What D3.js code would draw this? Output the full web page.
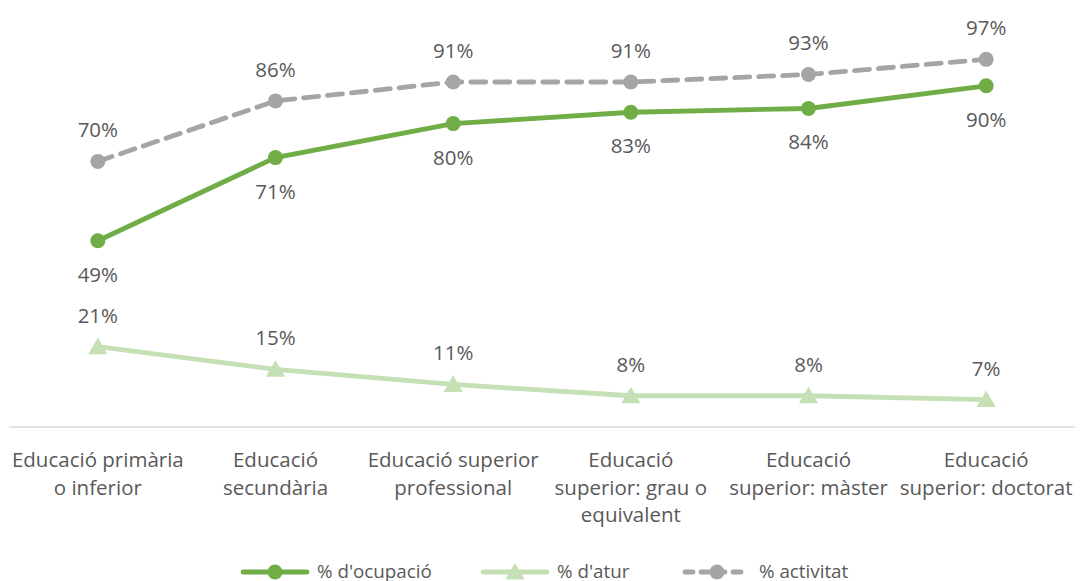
<!DOCTYPE html>
<html>
<meta charset="utf-8">
<head>
  <script src="https://d3js.org/d3.v7.min.js"></script>
</head>
<style>
  body { margin: 0; background: #fff; }
  text { font-family: 'Open Sans', sans-serif; fill: #595959; font-size: 20.5px; }
  text.leg { font-size: 18.8px; }
</style>
<body>
<script>
  // data
  var categories = [
    ["Educació primària", "o inferior"],
    ["Educació", "secundària"],
    ["Educació superior", "professional"],
    ["Educació", "superior: grau o", "equivalent"],
    ["Educació", "superior: màster"],
    ["Educació", "superior: doctorat"]
  ];
  var ocupacio = [49, 71, 80, 83, 84, 90];
  var atur = [21, 15, 11, 8, 8, 7];
  var activitat = [70, 86, 91, 91, 93, 97];

  var w = 1080, h = 581;
  var svg = d3.select("body").append("svg").attr("width", w).attr("height", h);

  var x = d3.scaleBand().domain(d3.range(categories.length)).range([9, 1075]);
  var y = d3.scaleLinear().domain([0, 100]).range([426, 48]);
  var cx = function(i) { return x(i) + x.bandwidth() / 2; };

  // baseline
  svg.append("line")
    .attr("x1", 9).attr("x2", 1075).attr("y1", 427).attr("y2", 427)
    .attr("stroke", "#d9d9d9").attr("stroke-width", 1.5);

  // category labels
  categories.forEach(function(lines, i) {
    var t = svg.append("text").attr("text-anchor", "middle");
    lines.forEach(function(l, k) {
      t.append("tspan").attr("x", cx(i)).attr("y", 467 + k * 27.5).text(l);
    });
  });

  var line = d3.line().x(function(d, i) { return cx(i); }).y(function(d) { return y(d); });

  var series = [
    { name: "% d'ocupació", data: ocupacio, color: "#70ad47", dash: null, marker: "circle", lab: 41 },
    { name: "% d'atur", data: atur, color: "#c5e0b4", dash: null, marker: "triangle", lab: -24 },
    { name: "% activitat", data: activitat, color: "#a5a5a5", dash: "15,9", marker: "circle", lab: -24 }
  ];

  var tri = d3.symbol().type(d3.symbolTriangle).size(160);

  function marker(g, s, px, py) {
    if (s.marker === "circle") {
      g.append("circle").attr("cx", px).attr("cy", py).attr("r", 7.5).attr("fill", s.color);
    } else {
      g.append("path").attr("d", tri).attr("transform", "translate(" + px + "," + (py + 2) + ")")
        .attr("fill", s.color);
    }
  }

  series.forEach(function(s) {
    var g = svg.append("g");
    g.append("path").datum(s.data).attr("d", line)
      .attr("fill", "none").attr("stroke", s.color).attr("stroke-width", 4.8)
      .attr("stroke-linecap", "round").attr("stroke-dasharray", s.dash);
    s.data.forEach(function(v, i) {
      marker(g, s, cx(i), y(v));
      svg.append("text").attr("x", cx(i)).attr("y", y(v) + s.lab)
        .attr("text-anchor", "middle").text(v + "%");
    });
  });

  // legend
  var legX = [243, 483, 685];
  series.forEach(function(s, i) {
    var g = svg.append("g").attr("transform", "translate(" + legX[i] + ",572)");
    g.append("line").attr("x1", 0).attr("x2", 64).attr("y1", 0).attr("y2", 0)
      .attr("stroke", s.color).attr("stroke-width", 4.8).attr("stroke-linecap", "round")
      .attr("stroke-dasharray", s.dash ? "8,8" : null);
    marker(g, s, 32, 0);
    g.append("text").attr("class", "leg").attr("x", 74).attr("y", 6).text(s.name);
  });
</script>
</body>
</html>
